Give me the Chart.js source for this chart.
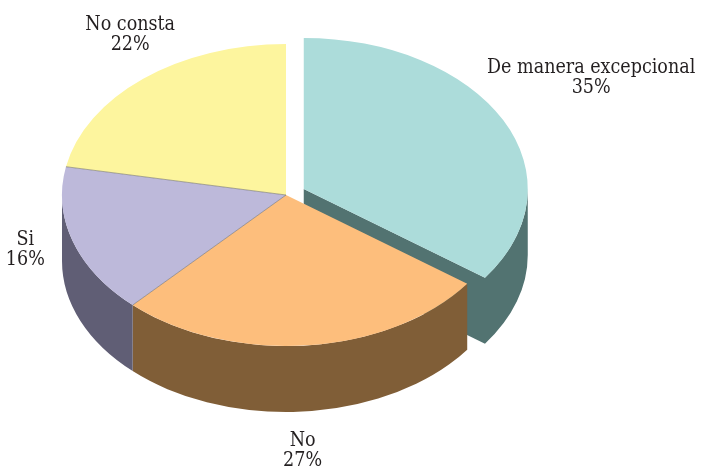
<!DOCTYPE html>
<html>
<head>
<meta charset="utf-8">
<script src="https://cdn.jsdelivr.net/npm/chart.js@4.4.1/dist/chart.umd.min.js"></script>
<style>
  html, body { margin: 0; padding: 0; background: #fff; }
  #wrap { width: 702px; height: 472px; position: relative; }
</style>
</head>
<body>
<div id="wrap"><canvas id="pie"></canvas></div>
<script>
const categories = ['De manera excepcional', 'No', 'Si', 'No consta'];
const percents = [35, 27, 16, 22];

// look of the tilted pie
const topColors = ['#acdcda', '#fdbe7c', '#bdb9da', '#fdf59e'];
const sideColors = ['#527371', '#805e37', '#605e75', '#8a8455'];
const explode = [21, 0, 0, 0];
const labelNudge = [[-21, -25], [-8, 2], [-12, -24], [27, -14]];
const PIE = { cx: 286, cy: 195, rx: 224, ry: 151, depth: 66 };
const LABEL_GAP = 18;
const LINE_H = 20;
const LABEL_FONT = '19.5px "DejaVu Serif Condensed", "DejaVu Serif", serif';

// Draws the arcs as a flattened disc with a rim, then the outside labels.
const pie3d = {
  id: 'pie3d',
  beforeDatasetsDraw(chart) {
    const ctx = chart.ctx;
    const arcs = chart.getDatasetMeta(0).data;
    if (!arcs.length) return;
    const R = arcs[0].outerRadius;
    const sx = PIE.rx / R, sy = PIE.ry / R;
    const dz = PIE.depth / sy;

    const toDisc = (el, i) => {
      const mid = (el.startAngle + el.endAngle) / 2;
      ctx.translate(PIE.cx, PIE.cy);
      ctx.scale(sx, sy);
      ctx.translate(-el.x, -el.y);
      ctx.translate(Math.cos(mid) * explode[i], Math.sin(mid) * explode[i]);
    };

    const sideFace = (el, a) => {
      ctx.beginPath();
      ctx.moveTo(el.x, el.y);
      ctx.lineTo(el.x + Math.cos(a) * R, el.y + Math.sin(a) * R);
      ctx.lineTo(el.x + Math.cos(a) * R, el.y + Math.sin(a) * R + dz);
      ctx.lineTo(el.x, el.y + dz);
      ctx.closePath();
      ctx.fill();
    };

    // exploded slices sit behind the rest, so their walls go first
    const order = arcs.map((el, i) => i).sort((a, b) => explode[b] - explode[a]);
    order.forEach(i => {
      const el = arcs[i];
      ctx.save();
      toDisc(el, i);
      ctx.fillStyle = sideColors[i];
      if (explode[i] > 0) {
        if (Math.cos(el.startAngle) < 0) sideFace(el, el.startAngle);
        if (Math.cos(el.endAngle) > 0) sideFace(el, el.endAngle);
      }
      const a0 = Math.max(el.startAngle, 0);
      const a1 = Math.min(el.endAngle, Math.PI);
      if (a1 > a0) {
        ctx.beginPath();
        ctx.arc(el.x, el.y, R, a0, a1);
        ctx.lineTo(el.x + Math.cos(a1) * R, el.y + Math.sin(a1) * R + dz);
        ctx.arc(el.x, el.y + dz, R, a1, a0, true);
        ctx.closePath();
        ctx.fill();
      }
      ctx.restore();
    });

    // top faces, using the arc elements themselves
    arcs.forEach((el, i) => {
      ctx.save();
      toDisc(el, i);
      el.draw(ctx);
      ctx.restore();
    });

    // thin seams between slices that touch
    ctx.save();
    ctx.strokeStyle = 'rgba(105,105,105,0.7)';
    ctx.lineWidth = 0.8;
    arcs.forEach((el, i) => {
      const prev = (i + arcs.length - 1) % arcs.length;
      if (explode[i] || explode[prev]) return;
      const a = el.startAngle;
      ctx.beginPath();
      ctx.moveTo(PIE.cx, PIE.cy);
      ctx.lineTo(PIE.cx + Math.cos(a) * PIE.rx, PIE.cy + Math.sin(a) * PIE.ry);
      ctx.stroke();
    });
    ctx.restore();
    return false;
  },
  afterDraw(chart) {
    const ctx = chart.ctx;
    const arcs = chart.getDatasetMeta(0).data;
    if (!arcs.length) return;
    const R = arcs[0].outerRadius;
    const sx = PIE.rx / R, sy = PIE.ry / R;
    ctx.save();
    ctx.font = LABEL_FONT;
    ctx.fillStyle = '#231f20';
    ctx.textAlign = 'center';
    ctx.textBaseline = 'middle';
    arcs.forEach((el, i) => {
      const mid = (el.startAngle + el.endAngle) / 2;
      const c = Math.cos(mid), s = Math.sin(mid);
      const lines = [categories[i], percents[i] + '%'];
      const hw = Math.max(...lines.map(t => ctx.measureText(t).width)) / 2;
      const x = PIE.cx + sx * c * explode[i] + c * (PIE.rx + LABEL_GAP) + c * hw + labelNudge[i][0];
      const y = PIE.cy + sy * s * explode[i] + s * (PIE.ry + LABEL_GAP) + s * LINE_H +
        (s > 0 ? PIE.depth * s : 0) + labelNudge[i][1];
      ctx.fillText(lines[0], x, y - LINE_H / 2);
      ctx.fillText(lines[1], x, y + LINE_H / 2);
    });
    ctx.restore();
  }
};

new Chart(document.getElementById('pie'), {
  type: 'pie',
  data: {
    labels: categories,
    datasets: [{
      data: percents,
      backgroundColor: topColors,
      borderWidth: 0
    }]
  },
  options: {
    responsive: true,
    maintainAspectRatio: false,
    animation: false,
    events: [],
    layout: { padding: 0 },
    plugins: {
      legend: { display: false },
      tooltip: { enabled: false }
    }
  },
  plugins: [pie3d]
});
</script>
</body>
</html>
